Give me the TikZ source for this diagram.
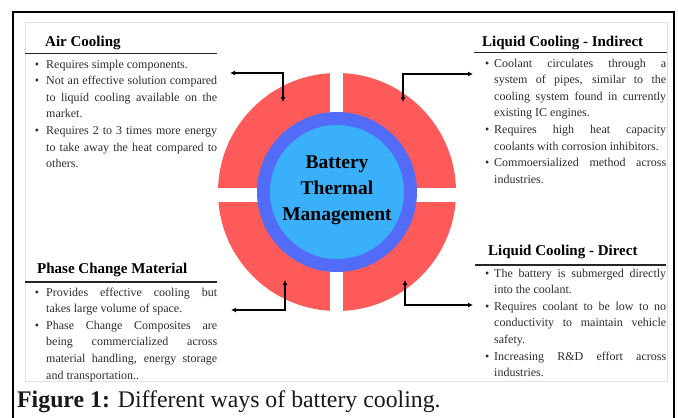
\documentclass[tikz,border=0pt]{standalone}
\usepackage{fontspec}
\setmainfont{Liberation Serif}
\usetikzlibrary{arrows.meta}
\definecolor{ringred}{RGB}{255,90,90}
\definecolor{ringblue}{RGB}{82,108,248}
\definecolor{coreblue}{RGB}{58,176,250}
\definecolor{boxgray}{RGB}{225,225,228}
\definecolor{bodytext}{RGB}{45,45,45}
\newlength{\bind}\newlength{\bgap}
\newcommand{\bitem}[1]{\par\noindent\hangindent=\bind\hangafter=0\relax\llap{\textbullet\hspace{\bgap}}#1\par}
\hyphenpenalty=10000 \exhyphenpenalty=10000 \tolerance=9999 \emergencystretch=20pt
\tikzset{
  body/.style={anchor=base west, inner sep=0pt, text width=#1, align=justify, text=bodytext,
    font=\fontsize{12}{16.6}\selectfont},
  ttl/.style={anchor=base west, inner sep=0pt, font=\fontsize{15}{18}\selectfont\bfseries},
  rulel/.style={line width=1.6pt, draw=black!85},
  biarrow/.style={line width=1.3pt, {Latex[length=5pt,width=5pt]}-{Latex[length=5pt,width=5pt]}},
}
\begin{document}
\begin{tikzpicture}[x=1pt,y=-1pt]
\useasboundingbox (0,0) rectangle (678,418);
\fill[white] (0,0) rectangle (678,418);
% frame
\draw[line width=1.5pt] (13,418) -- (13,12) -- (674,12) -- (674,418);
\draw[boxgray, line width=0.8pt] (25,22) rectangle (667,381);
% wheel
\fill[ringred] (337,192) circle[radius=119pt];
\fill[white] (330,60) rectangle (343.3,320);
\fill[white] (200,187.5) rectangle (470,201.5);
\fill[ringblue] (337,192) circle[radius=80pt];
\fill[coreblue] (337,192) circle[radius=67pt];
\node[font=\fontsize{19.5}{26}\selectfont\bfseries, align=center, inner sep=0pt] (btm) at (337,190) {Battery\\Thermal\\Management};
% titles and rules
\node[ttl] (tair) at (45,46.5) {Air Cooling};
\draw[rulel] (25,53.5) -- (217,53.5);
\node[ttl] (tind) at (482,46.5) {Liquid Cooling - Indirect};
\draw[rulel] (474,52.5) -- (667,52.5);
\node[ttl] (tpcm) at (37,273) {Phase Change Material};
\draw[rulel] (25,282) -- (217,282);
\node[ttl] (tdir) at (488,255) {Liquid Cooling - Direct};
\draw[rulel] (475,265) -- (666,265);
% bodies
\node[body=183pt] (bair) at (34,51.5) {\setlength{\bind}{12pt}\setlength{\bgap}{7pt}%
\bitem{Requires simple components.}%
\bitem{Not an effective solution compared\linebreak to liquid cooling available on the\linebreak market.}%
\bitem{Requires 2 to 3 times more energy\linebreak to take away the heat compared to\linebreak others.}};
\node[body=182pt] (bind) at (484,50.5) {\setlength{\bind}{10pt}\setlength{\bgap}{5pt}%
\bitem{Coolant circulates through a\linebreak system of pipes, similar to the\linebreak cooling system found in currently\linebreak existing IC engines.}%
\bitem{Requires high heat capacity\linebreak coolants with corrosion inhibitors.}%
\bitem{Commoersialized method across\linebreak industries.}};
\node[body=183pt] (bpcm) at (34,279.5) {\setlength{\bind}{12pt}\setlength{\bgap}{7pt}%
\bitem{Provides effective cooling but\linebreak takes large volume of space.}%
\bitem{Phase Change Composites are\linebreak being commercialized across\linebreak material handling, energy storage\linebreak and transportation..}};
\node[body=182pt] (bdir) at (484,260.5) {\setlength{\bind}{10pt}\setlength{\bgap}{5pt}%
\bitem{The battery is submerged directly\linebreak into the coolant.}%
\bitem{Requires coolant to be low to no\linebreak conductivity to maintain vehicle\linebreak safety.}%
\bitem{Increasing R\&D effort across\linebreak industries.}};
% arrows
\coordinate (aTL1) at (230,73); \coordinate (aTL2) at (283,102);
\coordinate (aTR1) at (473,74); \coordinate (aTR2) at (403,102);
\coordinate (aBL1) at (231,310); \coordinate (aBL2) at (285,280);
\coordinate (aBR1) at (473,305); \coordinate (aBR2) at (405,280);
\draw[biarrow] (aTL1) -| (aTL2);
\draw[biarrow] (aTR1) -| (aTR2);
\draw[biarrow] (aBL1) -| (aBL2);
\draw[biarrow] (aBR1) -| (aBR2);
% caption
\node[anchor=base west, inner sep=0pt, font=\fontsize{23.8}{28}\selectfont, text=black!90] (cap) at (17,407) {\textbf{Figure 1:} Different ways of battery cooling.};
\end{tikzpicture}
\end{document}
